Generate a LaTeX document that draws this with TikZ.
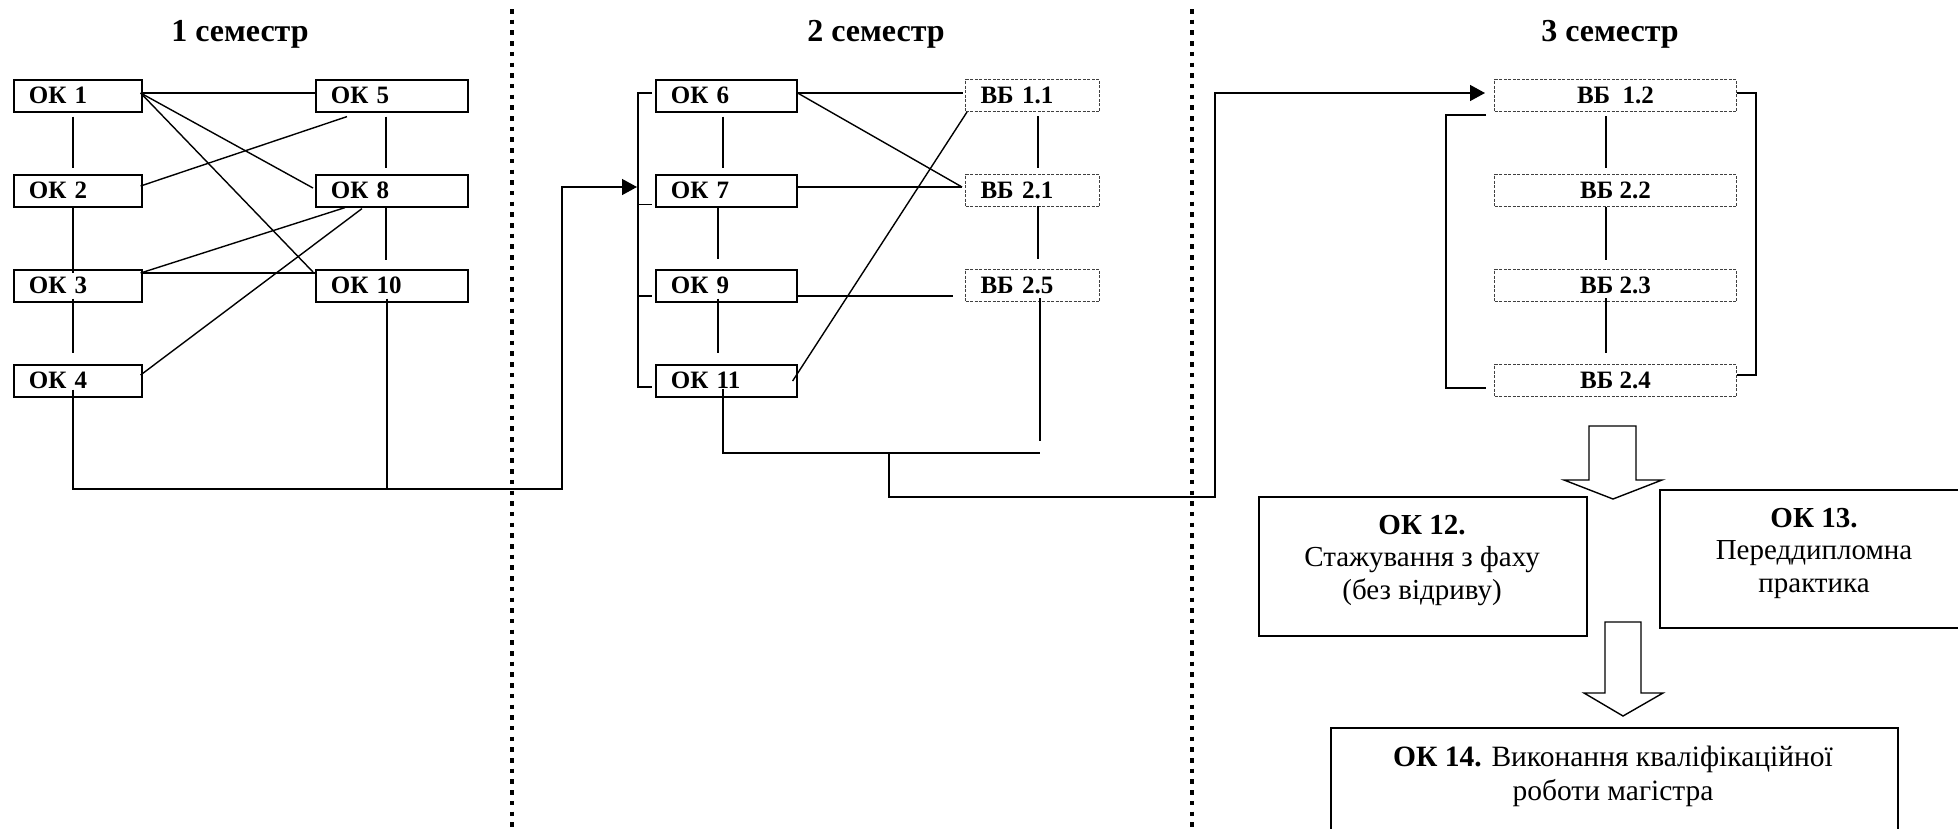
\documentclass[tikz,border=0pt]{standalone}
\usepackage{fontspec}
\setmainfont{Liberation Serif}
\usetikzlibrary{arrows.meta,calc}
\tikzset{
  titletext/.style={font=\bfseries\fontsize{32}{38}\selectfont, inner sep=0pt, anchor=base},
  boxbase/.style={anchor=north west, minimum height=32pt, inner xsep=15pt, inner ysep=0pt,
    font=\bfseries\fontsize{25}{30}\selectfont},
  okbox/.style={boxbase, draw, line width=1.6pt, text width=#1, align=left},
  vbbox/.style={boxbase, draw=black!75, line width=1pt, dash pattern=on 3pt off 1.5pt, text width=#1, align=left},
  vbwide/.style={boxbase, draw=black!75, line width=1pt, dash pattern=on 3pt off 1.5pt, minimum width=242pt},
  bigbox/.style={draw, line width=1.6pt, anchor=north west, inner sep=0pt},
  bigtext/.style={align=center, anchor=north, inner sep=0pt, font=\fontsize{29}{32.5}\selectfont},
  conn/.style={line width=1.4pt},
  arr/.style={conn, -{Triangle[length=15pt,width=16pt]}},
  sepline/.style={line width=4.5pt, dash pattern=on 4.5pt off 6.2pt},
  blockarrow/.style={line width=1.4pt, line join=miter, fill=white}
}
\begin{document}
\begin{tikzpicture}[x=1pt,y=-1pt]
\useasboundingbox (0,0) rectangle (1958,828);

% titles
\node[titletext] (t1) at (240,41) {1 семестр};
\node[titletext] (t2) at (876,41) {2 семестр};
\node[titletext] (t3) at (1610,41) {3 семестр};

% separators
\draw[sepline] (512,9) -- (512,828);
\draw[sepline] (1192,9) -- (1192,828);

% semester 1
\node[okbox=98pt]  (ok1)  at (13,79)   {ОК 1};
\node[okbox=122pt] (ok5)  at (315,79)  {ОК 5};
\node[okbox=98pt]  (ok2)  at (13,174)  {ОК 2};
\node[okbox=122pt] (ok8)  at (315,174) {ОК 8};
\node[okbox=98pt]  (ok3)  at (13,269)  {ОК 3};
\node[okbox=122pt] (ok10) at (315,269) {ОК 10};
\node[okbox=98pt]  (ok4)  at (13,364)  {ОК 4};

% semester 2
\node[okbox=111pt] (ok6)  at (655,79)  {ОК 6};
\node[okbox=111pt] (ok7)  at (655,174) {ОК 7};
\node[okbox=111pt] (ok9)  at (655,269) {ОК 9};
\node[okbox=111pt] (ok11) at (655,364) {ОК 11};
\node[vbbox=104pt] (vb11) at (965,79)  {ВБ 1.1};
\node[vbbox=104pt] (vb21) at (965,174) {ВБ 2.1};
\node[vbbox=104pt] (vb25) at (965,269) {ВБ 2.5};

% semester 3
\node[vbwide] (vb12) at (1494,79)  {ВБ\ \ 1.2};
\node[vbwide] (vb22) at (1494,174) {ВБ 2.2};
\node[vbwide] (vb23) at (1494,269) {ВБ 2.3};
\node[vbwide] (vb24) at (1494,364) {ВБ 2.4};

% bottom blocks
\node[bigbox, minimum width=328pt, minimum height=139pt] (ok12) at (1258,496) {};
\node[bigtext] (ok12t) at (1422,515) {\textbf{ОК 12.}\\Стажування з фаху\\(без відриву)};
\node[bigbox, minimum width=310pt, minimum height=138pt] (ok13) at (1659,489) {};
\node[bigtext] (ok13t) at (1814,508) {\textbf{ОК 13.}\\Переддипломна\\практика};
\node[bigbox, minimum width=567pt, minimum height=160pt] (ok14) at (1330,727) {};
\node[bigtext, font=\fontsize{29.5}{34}\selectfont] (ok14t) at (1613,746)
  {\textbf{ОК 14.} Виконання кваліфікаційної\\роботи магістра};

% block arrows
\draw[blockarrow] (1589,426) -- (1636,426) -- (1636,480) -- (1662,480) -- (1613,499) -- (1564,480) -- (1589,480) -- cycle;
\draw[blockarrow] (1605,622) -- (1641,622) -- (1641,693) -- (1663,693) -- (1623,716) -- (1584,693) -- (1605,693) -- cycle;

% ---- connectors semester 1
\coordinate (p1) at ($(ok1.north east)+(-2,14)$);
\draw[conn] (p1) -- ($(ok5.north west)+(0,14)$);
\draw[conn] (p1) -- ($(ok8.north west)+(-2,14)$);
\draw[conn] (p1) -- ($(ok10.north west)+(-2,3)$);
\draw[conn] ($(ok5.south west)+(32,4)$) -- ($(ok2.north east)+(-2,12)$);
\draw[conn] ($(ok1.south west)+(60,4)$) -- ($(ok2.north west)+(60,-6)$);
\draw[conn] ($(ok5.south west)+(71,4)$) -- ($(ok8.north west)+(71,-6)$);
\draw[conn] ($(ok2.south west)+(60,0)$) -- ($(ok3.north west)+(60,4)$);
\draw[conn] ($(ok8.south west)+(71,0)$) -- ($(ok10.north west)+(71,-9)$);
\draw[conn] ($(ok8.south west)+(30,0)$) -- ($(ok3.north east)+(-2,4)$);
\draw[conn] ($(ok8.south west)+(47,1)$) -- ($(ok4.north east)+(-2,11)$);
\draw[conn] ($(ok3.north east)+(-2,4)$) -- ($(ok10.north west)+(0,4)$);
\draw[conn] ($(ok3.south west)+(60,-4)$) -- ($(ok4.north west)+(60,-11)$);
\coordinate (j1) at (562,489);
\draw[conn] ($(ok10.south west)+(72,-4)$) |- (j1);
\draw[arr] ($(ok4.south west)+(60,-8)$) |- (j1) |- ($(ok7.north west)+(-18,13)$);

% ---- connectors semester 2
\draw[conn] ($(ok6.north west)+(-3,14)$) -| ($(ok11.north west)+(-17,23)$) -- ($(ok11.north west)+(-3,23)$);
\draw[conn] ($(ok7.south west)+(-17,-3)$) -- ($(ok7.south west)+(-3,-3)$);
\draw[conn] ($(ok9.north west)+(-17,27)$) -- ($(ok9.north west)+(-3,27)$);
\coordinate (p6) at ($(ok6.north east)+(0,14)$);
\draw[conn] (p6) -- ($(vb11.north west)+(-2,14)$);
\draw[conn] (p6) -- ($(vb21.north west)+(-3,13)$);
\draw[conn] ($(ok7.north east)+(0,13)$) -- ($(vb21.north west)+(-3,13)$);
\draw[conn] ($(vb11.south west)+(2,0)$) -- ($(ok11.north east)+(-5,17)$);
\draw[conn] ($(ok6.south west)+(68,4)$) -- ($(ok7.north west)+(68,-6)$);
\draw[conn] ($(ok7.south west)+(63,0)$) -- ($(ok9.north west)+(63,-10)$);
\draw[conn] ($(ok9.south west)+(63,-4)$) -- ($(ok11.north west)+(63,-11)$);
\draw[conn] ($(ok9.north east)+(0,27)$) -- ($(vb25.north west)+(-12,27)$);
\draw[conn] ($(vb11.south west)+(73,4)$) -- ($(vb21.north west)+(73,-6)$);
\draw[conn] ($(vb21.south west)+(73,-1)$) -- ($(vb25.north west)+(73,-10)$);
\draw[conn] ($(vb25.south west)+(75,-4)$) -- ($(vb25.south west)+(75,139)$);
\draw[conn] ($(ok11.south west)+(68,-9)$) |- ($(vb25.south west)+(75,151)$);
\coordinate (j2) at (889,452);
\coordinate (j3) at (1215,497);
\draw[arr] (j2) |- (j3) |- ($(vb12.north west)+(-9,14)$);

% ---- connectors semester 3
\draw[conn] ($(vb12.south west)+(-8,3)$) -| ($(vb24.north west)+(-48,24)$) -- ($(vb24.north west)+(-8,24)$);
\draw[conn] ($(vb12.north east)+(0,14)$) -| ($(vb24.north east)+(19,11)$) -- ($(vb24.north east)+(0,11)$);
\draw[conn] ($(vb12.south west)+(112,4)$) -- ($(vb22.north west)+(112,-6)$);
\draw[conn] ($(vb22.south west)+(112,0)$) -- ($(vb23.north west)+(112,-9)$);
\draw[conn] ($(vb23.south west)+(112,-4)$) -- ($(vb24.north west)+(112,-11)$);
\end{tikzpicture}
\end{document}
